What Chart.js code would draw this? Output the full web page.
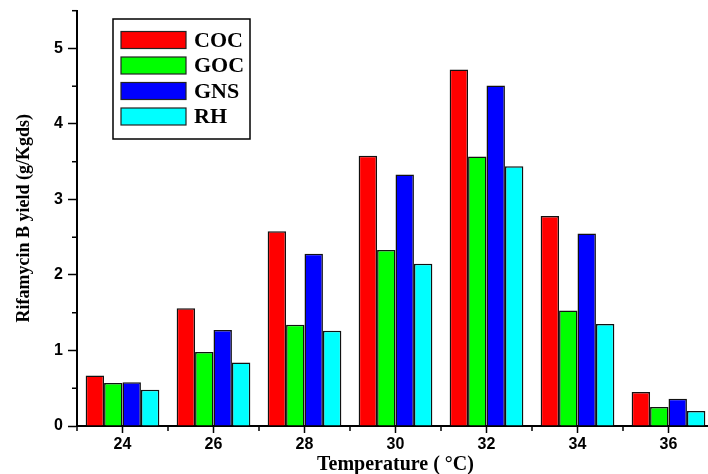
<!DOCTYPE html>
<html>
<head>
<meta charset="utf-8">
<script src="https://cdn.jsdelivr.net/npm/chart.js@4.4.1/dist/chart.umd.min.js"></script>
<style>
  html, body { margin: 0; padding: 0; background: #fff; overflow: hidden; }
  #wrap { width: 714px; height: 474px; }
</style>
</head>
<body>
<div id="wrap"><canvas id="myChart"></canvas></div>
<script>
// temperatures (deg C)
const temps = [24, 26, 28, 30, 32, 34, 36];
// rifamycin B yield (g/Kgds) per substrate
const coc = [0.67, 1.56, 2.58, 3.58, 4.72, 2.78, 0.45];
const goc = [0.57, 0.98, 1.34, 2.33, 3.57, 1.53, 0.25];
const gns = [0.58, 1.27, 2.28, 3.33, 4.51, 2.55, 0.36];
const rh  = [0.48, 0.84, 1.26, 2.15, 3.44, 1.35, 0.20];
const seriesNames = ['COC', 'GOC', 'GNS', 'RH'];
const seriesColors = ['#ff0000', '#00ff00', '#0000ff', '#00ffff'];

const allSeries = [coc, goc, gns, rh];

// short minor ticks (the long ones come from the axes)
const minorTicks = {
    id: 'minorTicks',
    afterDraw(chart) {
        const ctx = chart.ctx;
        const x = chart.scales.x;
        const y = chart.scales.y;
        ctx.save();
        ctx.strokeStyle = '#000';
        ctx.lineWidth = 1.5;
        y.ticks.forEach(t => {
            if (!Number.isInteger(t.value)) {
                const py = y.getPixelForValue(t.value);
                ctx.beginPath();
                ctx.moveTo(y.right, py);
                ctx.lineTo(y.right - 5, py);
                ctx.stroke();
            }
        });
        x.ticks.forEach(t => {
            if (t.value % 2 !== 0) {
                const px = x.getPixelForValue(t.value);
                ctx.beginPath();
                ctx.moveTo(px, x.top);
                ctx.lineTo(px, x.top + 5);
                ctx.stroke();
            }
        });
        ctx.restore();
    }
};

// boxed legend inside the plot, upper left
const boxLegend = {
    id: 'boxLegend',
    afterDraw(chart) {
        const ctx = chart.ctx;
        ctx.save();
        ctx.strokeStyle = '#000';
        ctx.lineWidth = 1.5;
        ctx.strokeRect(113, 19, 137, 120);
        ctx.font = 'bold 22px "Liberation Serif", "Times New Roman", serif';
        ctx.textBaseline = 'middle';
        chart.data.datasets.forEach((ds, i) => {
            const cy = 40 + i * 25.5;
            ctx.fillStyle = ds.backgroundColor;
            ctx.fillRect(121, cy - 8.5, 65, 17);
            ctx.strokeStyle = '#222';
            ctx.lineWidth = 1.2;
            ctx.strokeRect(121, cy - 8.5, 65, 17);
            ctx.fillStyle = '#000';
            ctx.fillText(ds.label, 194, cy + 1);
        });
        ctx.restore();
    }
};

const ctx = document.getElementById('myChart');
new Chart(ctx, {
    type: 'bar',
    data: {
        datasets: allSeries.map((vals, i) => ({
            label: seriesNames[i],
            data: vals.map((v, k) => ({ x: temps[k], y: v })),
            backgroundColor: seriesColors[i],
            borderColor: '#111',
            borderWidth: 1.5,
            // ruler uses the 1-degree tick spacing, so >1 to fill ~80% of a 2-degree slot
            categoryPercentage: 1.62,
            barPercentage: 1.0
        }))
    },
    options: {
        responsive: true,
        maintainAspectRatio: false,
        animation: false,
        layout: { padding: { top: 10.7, left: 0, right: 0, bottom: 0 } },
        plugins: {
            legend: { display: false },
            tooltip: { enabled: false }
        },
        scales: {
            x: {
                type: 'linear',
                min: 23,
                max: 37,
                offset: false,
                afterFit: s => { s.height = 48; s.paddingLeft = 0; s.paddingRight = 0; },
                grid: {
                    offset: false,
                    drawOnChartArea: false,
                    drawTicks: true,
                    tickLength: 7,
                    tickWidth: 1.5,
                    tickColor: c => (c.tick && c.tick.value % 2 === 0) ? '#000' : 'rgba(0,0,0,0)'
                },
                border: { display: true, color: '#000', width: 2 },
                ticks: {
                    stepSize: 1,
                    autoSkip: false,
                    maxRotation: 0,
                    padding: 2,
                    color: '#000',
                    font: { family: '"Liberation Sans", Arial, sans-serif', size: 16, weight: 'bold', lineHeight: 1.2 },
                    callback: v => (v % 2 === 0 && v > 23 && v < 37) ? String(v) : ''
                },
                title: {
                    display: true,
                    text: 'Temperature ( \u00b0C)',
                    color: '#000',
                    padding: { top: 0, bottom: 0 },
                    font: { family: '"Liberation Serif", "Times New Roman", serif', size: 20, weight: 'bold', lineHeight: 0.9 }
                }
            },
            y: {
                min: 0,
                max: 5.5,
                afterFit: s => { s.width = 77; s.paddingTop = 0; s.paddingBottom = 0; },
                grid: {
                    drawOnChartArea: false,
                    drawTicks: true,
                    tickLength: 9,
                    tickWidth: 1.5,
                    tickColor: c => (c.tick && Number.isInteger(c.tick.value)) ? '#000' : 'rgba(0,0,0,0)'
                },
                border: { display: true, color: '#000', width: 2 },
                ticks: {
                    stepSize: 0.5,
                    autoSkip: false,
                    padding: 5,
                    color: '#000',
                    font: { family: '"Liberation Sans", Arial, sans-serif', size: 16, weight: 'bold' },
                    callback: v => Number.isInteger(v) ? String(v) : ''
                },
                title: {
                    display: true,
                    text: 'Rifamycin B yield (g/Kgds)',
                    color: '#000',
                    padding: { top: 14, bottom: 0 },
                    font: { family: '"Liberation Serif", "Times New Roman", serif', size: 18, weight: 'bold', lineHeight: 1.2 }
                }
            }
        }
    },
    plugins: [minorTicks, boxLegend]
});
</script>
</body>
</html>
